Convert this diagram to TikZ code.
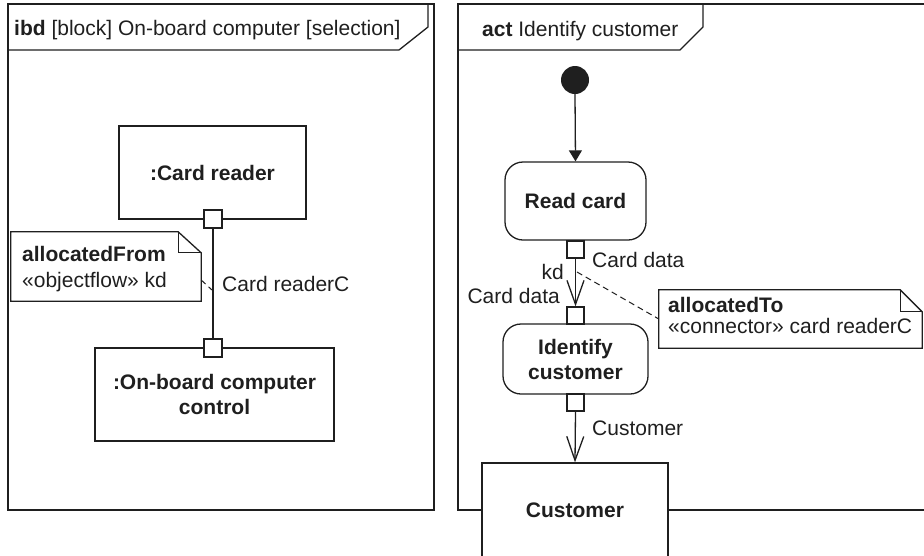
\documentclass[tikz,border=0pt]{standalone}
\usepackage{fontspec}
\setmainfont{Liberation Sans}
\usetikzlibrary{arrows.meta}
\definecolor{ink}{gray}{0.12}
\begin{document}
\begin{tikzpicture}[x=1pt,y=-1pt,
  every node/.style={font=\fontsize{21}{25}\selectfont, inner sep=0pt, text=ink},
  ln/.style={line width=1.3pt, draw=ink},
  blk/.style={ln, rectangle, fill=white, font=\fontsize{21}{25}\selectfont\bfseries, align=center},
  actbox/.style={blk, rounded corners=18pt},
  port/.style={ln, rectangle, fill=white, minimum size=18pt},
  pinbox/.style={ln, rectangle, fill=white, minimum width=17pt, minimum height=17pt},
  lbl/.style={anchor=base west},
  notebox/.style={rectangle, minimum width=#1},
  dsh/.style={line width=1pt, draw=ink, dash pattern=on 6pt off 4pt},
  flow/.style={ln, -{Straight Barb[length=24pt,width=17pt,line width=1.3pt]}},
  ctrl/.style={ln, -{Triangle[length=11pt,width=13pt]}},
]
\useasboundingbox (0,0) rectangle (924,555);

% ---------- frames ----------
\draw[ln] (8,4) rectangle (434,510);
\draw[ln] (8,50) -- (399,50) -- (428,27) -- (428,4);
\node[lbl] (ibdtitle) at (14,35) {\textbf{ibd} [block] On-board computer [selection]};

\draw[ln] (934,4) -- (458,4) -- (458,510) -- (934,510);
\draw[ln] (458,50) -- (680,50) -- (703,27) -- (703,4);
\node[lbl] (acttitle) at (482,36) {\textbf{act} Identify customer};

% ---------- left: ibd ----------
\node[blk, minimum width=187pt, minimum height=93pt] (cr) at (212.5,172.5) {:Card reader};
\node[blk, minimum width=239pt, minimum height=93pt] (obc) at (214.5,394.5) {:On-board computer\\control};
\node[port] (p1) at (213,219) {};
\node[port] (p2) at (213,348) {};
\draw[ln] (p1.south) -- (p2.north);
\node[lbl] (crc) at (222,291) {Card readerC};

\node[notebox=190pt, minimum height=69pt] (naf) at (106,266.5) {};
\draw[ln] (naf.north west) -- ([xshift=-23pt]naf.north east) -- ([yshift=-21pt]naf.north east)
  -- (naf.south east) -- (naf.south west) -- cycle;
\draw[ln] ([xshift=-23pt]naf.north east) |- ([yshift=-21pt]naf.north east);
\node[lbl] (naf1) at (22,261) {\textbf{allocatedFrom}};
\node[lbl] (naf2) at (22,287) {«objectflow» kd};
\coordinate (afpt) at ([yshift=-13.5pt]naf.east);
\coordinate (cfpt) at (212,290);
\draw[dsh] (afpt) -- (cfpt);

% ---------- right: act ----------
\node[circle, fill=ink, minimum size=28pt] (init) at (575,80) {};
\node[actbox, minimum width=141pt, minimum height=78pt] (rc) at (575.5,201) {Read card};
\node[actbox, minimum width=145pt, minimum height=70pt] (ic) at (575.5,359) {Identify\\customer};
\node[ln, rectangle, fill=white, minimum width=186pt, minimum height=136pt] (cust) at (575,531) {};
\node[anchor=base, font=\fontsize{21}{25}\selectfont\bfseries] (custlbl) at (575,517) {Customer};

\node[pinbox] (pa) at (575.5,249.5) {};
\node[pinbox] (pb) at (575.5,315.5) {};
\node[pinbox] (pc) at (575.5,402.5) {};

\draw[ctrl] (init.south) -- (rc.north);
\draw[flow] (pa.south) -- (pb.north);
\draw[flow] (pc.south) -- (cust.north);

\node[lbl] (cd1) at (592,267) {Card data};
\node[anchor=base east] (kd) at (564,279) {kd};
\node[anchor=base east] (cd2) at (560,303) {Card data};
\node[lbl] (custflow) at (592,435) {Customer};

\node[notebox=263pt, minimum height=58pt] (nat) at (790.5,319) {};
\draw[ln, fill=white] (nat.north west) -- ([xshift=-22pt]nat.north east) -- ([yshift=-22pt]nat.north east)
  -- (nat.south east) -- (nat.south west) -- cycle;
\draw[ln] ([xshift=-22pt]nat.north east) |- ([yshift=-22pt]nat.north east);
\node[lbl] (nat1) at (668,312) {\textbf{allocatedTo}};
\node[lbl] (nat2) at (668,333) {«connector» card readerC};
\coordinate (kdpt) at (577,272);
\draw[dsh] (kdpt) -- (nat.west);
\end{tikzpicture}
\end{document}
